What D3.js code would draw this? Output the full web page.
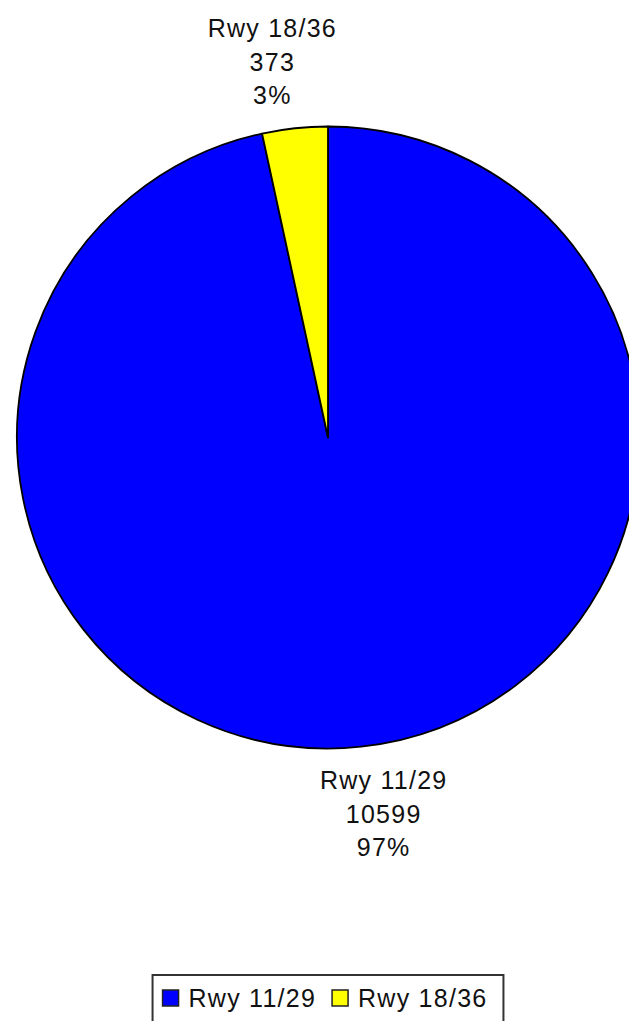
<!DOCTYPE html>
<html>
<head>
<meta charset="utf-8">
<script src="https://cdn.jsdelivr.net/npm/d3@7"></script>
<style>
  html, body { margin: 0; padding: 0; background: #ffffff; overflow: hidden; }
  text { font-family: "Liberation Sans", Arial, sans-serif; font-size: 25px; letter-spacing: 1.25px; fill: #111; }
</style>
</head>
<body>
<svg id="chart" width="629" height="1021"></svg>
<script>
// Runway usage counts
const categories = ["Rwy 11/29", "Rwy 18/36"];
const values = [10599, 373];
const percentLabels = ["97%", "3%"];
const colors = ["#0000ff", "#ffff00"];

const width = 629, height = 1021;
const cx = 328, cy = 437.5, radius = 311;
const lineH = 33.5;

const svg = d3.select("#chart");

const data = categories.map((c, i) => ({ name: c, value: values[i], pct: percentLabels[i], color: colors[i] }));

const pie = d3.pie().sort(null).value(d => d.value).startAngle(0).endAngle(2 * Math.PI);
const arc = d3.arc().innerRadius(0).outerRadius(radius);
const arcs = pie(data);

const g = svg.append("g").attr("transform", `translate(${cx},${cy})`);

g.selectAll("path.slice")
  .data(arcs)
  .join("path")
  .attr("class", "slice")
  .attr("d", arc)
  .attr("fill", d => d.data.color)
  .attr("stroke", "#000")
  .attr("stroke-width", 1.8)
  .attr("stroke-linejoin", "round");

// Slice labels: name, count and share, stacked outside the rim at each slice's mid-angle
const labels = g.selectAll("g.label")
  .data(arcs)
  .join("g")
  .attr("class", "label")
  .each(function (d) {
    const mid = (d.startAngle + d.endAngle) / 2;
    const sx = Math.sin(mid), cyDir = -Math.cos(mid);
    const x = sx * radius * 1.68;
    const lines = [d.data.name, String(d.data.value), d.data.pct];
    let firstBaseline;
    if (cyDir < 0) {
      // above the pie: the block ends just over the rim
      firstBaseline = cyDir * (radius + 24) - lineH * (lines.length - 1);
    } else {
      // below the pie: the block starts just under the rim
      firstBaseline = cyDir * (radius + 43);
    }
    d3.select(this).selectAll("text")
      .data(lines)
      .join("text")
      .attr("x", x)
      .attr("y", (t, i) => firstBaseline + i * lineH)
      .attr("text-anchor", "middle")
      .text(t => t);
  });

// Legend
const legend = svg.append("g").attr("class", "legend");
const box = legend.append("rect")
  .attr("fill", "#fff")
  .attr("stroke", "#333")
  .attr("stroke-width", 2);

const sw = 16, padL = 10, gapText = 10, gapItem = 16, padR = 16;
let xOff = padL;
const items = legend.selectAll("g.item")
  .data(data)
  .join("g")
  .attr("class", "item");

items.each(function (d) {
  const it = d3.select(this);
  it.append("rect")
    .attr("x", xOff)
    .attr("y", 15)
    .attr("width", sw)
    .attr("height", sw)
    .attr("fill", d.color)
    .attr("stroke", "#222")
    .attr("stroke-width", 1.5);
  const t = it.append("text")
    .attr("x", xOff + sw + gapText)
    .attr("y", 32)
    .text(d.name);
  xOff += sw + gapText + t.node().getComputedTextLength() + gapItem;
});

const boxW = xOff - gapItem + padR;
box.attr("x", 0).attr("y", 0).attr("width", boxW).attr("height", 52);
legend.attr("transform", `translate(${cx - boxW / 2},975)`);
</script>
</body>
</html>
